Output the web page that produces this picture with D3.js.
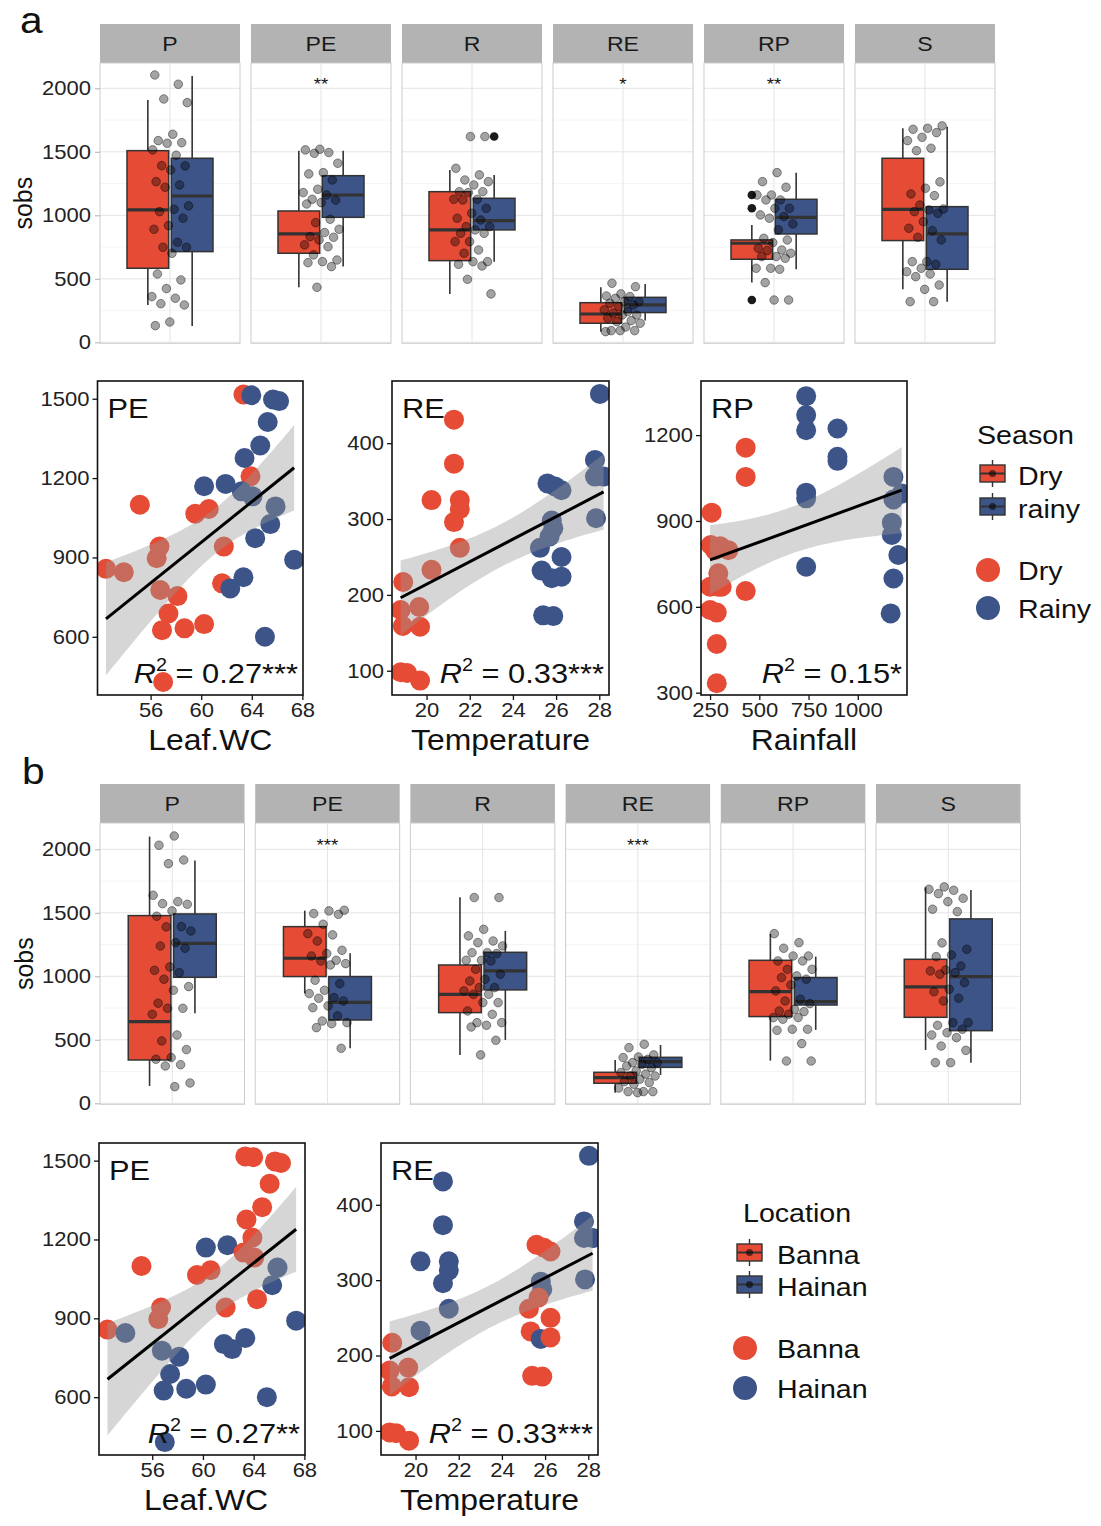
<!DOCTYPE html>
<html>
<head>
<meta charset="utf-8">
<script src="https://cdn.jsdelivr.net/npm/d3@7"></script>
<style>
  body { margin: 0; background: #fff; }
  text { font-family: "Liberation Sans", Arial, Helvetica, sans-serif; }
</style>
</head>
<body>
<svg id="fig" width="1101" height="1526"></svg>
<script>
// ---------- box plots: sobs per compartment ----------
const compartments = ["P", "PE", "R", "RE", "RP", "S"];
const boxTicks = [0, 500, 1000, 1500, 2000];
const boxMinor = [250, 750, 1250, 1750];
// [lower whisker, Q1, median, Q3, upper whisker]
const boxDry    = [[294, 583, 1042, 1509, 1908], [433, 701, 853, 1034, 1509], [381, 643, 885, 1186, 1357], [84, 150, 223, 312, 433], [470, 654, 780, 806, 924], [417, 801, 1047, 1449, 1685]];
const boxRainy  = [[129, 714, 1152, 1449, 2097], [596, 984, 1160, 1312, 1509], [635, 885, 958, 1134, 1318], [171, 234, 294, 354, 459], [575, 853, 984, 1126, 1336], [320, 575, 853, 1068, 1698]];
const boxBanna  = [[137, 341, 643, 1478, 2100], [866, 998, 1142, 1391, 1517], [381, 714, 858, 1089, 1622], [84, 158, 202, 244, 341], [336, 683, 879, 1126, 1333], [420, 677, 916, 1134, 1701]];
const boxHainan = [[709, 992, 1260, 1491, 1911], [433, 656, 795, 998, 1181], [499, 893, 1042, 1189, 1357], [223, 283, 328, 362, 459], [578, 774, 801, 990, 1155], [320, 572, 998, 1452, 1680]];
const outDry    = [[], [], [], [], [1160, 1055, 333], []];
const outRainy  = [[], [], [1620], [], [], []];
const noOut     = [[], [], [], [], [], []];
const sigSeason   = ["", "**", "", "*", "**", ""];
const sigLocation = ["", "***", "", "***", "", ""];

// samples drawn as grey jittered points
const sobsP  = [2105, 2032, 1916, 1887, 1638, 1588, 1572, 1567, 1515, 1473, 1391, 1389, 1357, 1265, 1239, 1221, 1074, 1047, 1029, 977, 919, 890, 788, 748, 748, 701, 538, 491, 423, 360, 347, 304, 294, 160, 131];
const sobsPE = [1520, 1515, 1494, 1488, 1410, 1336, 1326, 1278, 1205, 1179, 1160, 1126, 1120, 1100, 1089, 969, 942, 890, 864, 832, 827, 806, 767, 753, 688, 648, 635, 627, 596, 433];
const sobsR  = [1620, 1620, 1370, 1318, 1278, 1265, 1239, 1186, 1186, 1179, 1126, 1126, 1121, 1055, 1016, 977, 963, 911, 911, 885, 858, 858, 793, 793, 727, 701, 635, 635, 614, 601, 496, 381];
const sobsRE = [465, 438, 381, 365, 360, 346, 320, 320, 307, 294, 281, 255, 242, 230, 215, 215, 190, 171, 163, 150, 120, 92, 92, 92, 84];
const sobsRP = [1336, 1265, 1221, 1160, 1160, 1121, 1121, 1055, 1055, 1003, 990, 977, 932, 885, 819, 806, 785, 740, 727, 722, 701, 675, 675, 662, 583, 583, 575, 470, 333, 333];
const sobsS  = [1704, 1685, 1677, 1651, 1614, 1588, 1528, 1509, 1263, 1213, 1168, 1155, 1081, 1050, 1042, 1029, 1016, 950, 898, 879, 827, 806, 635, 635, 614, 583, 556, 538, 517, 451, 417, 320, 320];
const sobsAll = [sobsP, sobsPE, sobsR, sobsRE, sobsRP, sobsS];

// ---------- scatter: PE sobs vs leaf water content ----------
const peLeafWC = [63.34, 55.15, 59.53, 60.6, 63.9, 61.79, 52.47, 53.88, 56.7, 56.48, 61.65, 56.76, 58.12, 57.41, 56.9, 58.68, 60.23, 56.99,
                  63.96, 65.68, 66.16, 65.26, 64.67, 63.43, 60.23, 61.93, 63.2, 64.05, 65.88, 65.46, 64.27, 67.35, 63.34, 62.3, 65.04];
const peSobs = [1516, 1099, 1065, 1083, 1207, 941, 857, 844, 941, 897, 802, 777, 754, 688, 625, 632, 648, 429,
                1513, 1497, 1491, 1412, 1323, 1276, 1169, 1178, 1150, 1131, 1093, 1026, 973, 891, 825, 783, 600];
const peSeason = ["Dry", "Dry", "Dry", "Dry", "Dry", "Dry", "Dry", "Dry", "Dry", "Dry", "Dry", "Dry", "Dry", "Dry", "Dry", "Dry", "Dry", "Dry",
                  "Rainy", "Rainy", "Rainy", "Rainy", "Rainy", "Rainy", "Rainy", "Rainy", "Rainy", "Rainy", "Rainy", "Rainy", "Rainy", "Rainy", "Rainy", "Rainy", "Rainy"];
const peLocation = ["Banna", "Banna", "Banna", "Banna", "Banna", "Banna", "Banna", "Hainan", "Banna", "Banna", "Hainan", "Hainan", "Hainan", "Hainan", "Hainan", "Hainan", "Hainan", "Hainan",
                    "Banna", "Banna", "Banna", "Banna", "Banna", "Banna", "Hainan", "Hainan", "Banna", "Banna", "Hainan", "Hainan", "Banna", "Hainan", "Hainan", "Hainan", "Hainan"];

// ---------- scatter: RE sobs vs temperature ----------
const reTemp = [21.27, 21.27, 20.23, 21.54, 21.54, 21.27, 21.54, 20.23, 18.92, 18.8, 19.66, 18.9, 19.7, 18.8, 19.1, 19.7,
                28.03, 27.8, 27.8, 28.2, 27.85, 25.6, 25.95, 26.25, 25.8, 25.87, 25.7, 25.25, 26.25, 25.33, 25.8, 26.25, 25.4, 25.87];
const reSobs = [431, 373, 325, 325, 313, 296, 262, 233, 217, 180, 184, 159, 158, 98, 97, 87,
                465, 378, 356, 356, 301, 347, 343, 338, 298, 288, 277, 262, 250, 232, 222, 224, 173, 172];
const reSeason = ["Dry", "Dry", "Dry", "Dry", "Dry", "Dry", "Dry", "Dry", "Dry", "Dry", "Dry", "Dry", "Dry", "Dry", "Dry", "Dry",
                  "Rainy", "Rainy", "Rainy", "Rainy", "Rainy", "Rainy", "Rainy", "Rainy", "Rainy", "Rainy", "Rainy", "Rainy", "Rainy", "Rainy", "Rainy", "Rainy", "Rainy", "Rainy"];
const reLocation = ["Hainan", "Hainan", "Hainan", "Hainan", "Hainan", "Hainan", "Hainan", "Hainan", "Banna", "Banna", "Banna", "Banna", "Banna", "Banna", "Banna", "Banna",
                    "Hainan", "Hainan", "Hainan", "Hainan", "Hainan", "Banna", "Banna", "Banna", "Hainan", "Hainan", "Banna", "Banna", "Banna", "Banna", "Hainan", "Banna", "Banna", "Banna"];

// ---------- scatter: RP sobs vs rainfall ----------
const rpRain = [258, 431, 431, 431, 254, 301, 343, 275, 292, 292, 250, 309, 250, 284, 284, 284,
                738, 738, 738, 897, 897, 897, 738, 738, 738, 1181, 1223, 1181, 1173, 1173, 1206, 1181, 1167];
const rpSobs = [929, 1156, 1054, 655, 816, 812, 798, 798, 717, 670, 670, 670, 589, 580, 470, 333,
                1336, 1270, 1217, 1223, 1124, 1110, 999, 979, 740, 1054, 996, 975, 894, 851, 781, 699, 577];
const rpSeason = ["Dry", "Dry", "Dry", "Dry", "Dry", "Dry", "Dry", "Dry", "Dry", "Dry", "Dry", "Dry", "Dry", "Dry", "Dry", "Dry",
                  "Rainy", "Rainy", "Rainy", "Rainy", "Rainy", "Rainy", "Rainy", "Rainy", "Rainy", "Rainy", "Rainy", "Rainy", "Rainy", "Rainy", "Rainy", "Rainy", "Rainy"];

const r2Season   = ["0.27***", "0.33***", "0.15*"];
const r2Location = ["0.27**", "0.33***"];

const RED = "#E64B35", BLUE = "#3C5488";
const seasonColor = { Dry: RED, Rainy: BLUE };
const locationColor = { Banna: RED, Hainan: BLUE };
const SX = 1.1; // the figure text is slightly wide

const svg = d3.select("#fig");
svg.append("rect").attr("width", 1101).attr("height", 1526).attr("fill", "#fff");

function stretch(sel) {
  sel.each(function () {
    const t = d3.select(this);
    const x = +t.attr("x") || 0;
    t.attr("x", x / SX).attr("transform", `scale(${SX},1)`);
  });
}

function label(p, x, y, str, size, anchor) {
  return p.append("text")
    .attr("x", x / SX).attr("y", y)
    .attr("transform", `scale(${SX},1)`)
    .attr("font-size", size)
    .attr("text-anchor", anchor || "start")
    .attr("fill", "#111")
    .text(str);
}

function frac(v) { return v - Math.floor(v); }

// ---------- box plot row ----------
function boxRow(o) {
  const px = d3.scaleBand().domain(compartments).range(o.xRange).paddingInner(o.pad);
  const y = d3.scaleLinear().domain([0, 2000]).range([o.zero, o.zero - 254]);
  const top = o.stripTop + 39, bottom = o.zero + 1;
  const w = px.bandwidth();

  compartments.forEach((c, k) => {
    const x0 = px(c), cx = x0 + w / 2;
    const g = svg.append("g");

    g.append("rect").attr("x", x0).attr("y", o.stripTop).attr("width", w).attr("height", 39).attr("fill", "#B3B3B3");
    label(g, cx, o.stripTop + 27.5, c, 21, "middle").attr("fill", "#1a1a1a");

    g.selectAll(".minor").data(boxMinor).join("line").attr("class", "minor")
      .attr("x1", x0).attr("x2", x0 + w).attr("y1", d => y(d)).attr("y2", d => y(d))
      .attr("stroke", "#F2F2F2").attr("stroke-width", 0.8);
    g.selectAll(".major").data(boxTicks).join("line").attr("class", "major")
      .attr("x1", x0).attr("x2", x0 + w).attr("y1", d => y(d)).attr("y2", d => y(d))
      .attr("stroke", "#E4E4E4").attr("stroke-width", 1);
    g.append("line").attr("x1", cx).attr("x2", cx).attr("y1", top).attr("y2", bottom)
      .attr("stroke", "#E4E4E4").attr("stroke-width", 1);

    const sub = d3.scaleBand().domain([0, 1]).range([cx - o.dodge, cx + o.dodge]).paddingInner(0.06);
    [[o.first[k], RED, o.outFirst[k]], [o.second[k], BLUE, o.outSecond[k]]].forEach(([s, col, outs], j) => {
      const bx = sub(j), bw = sub.bandwidth(), mx = bx + bw / 2;
      g.append("line").attr("x1", mx).attr("x2", mx).attr("y1", y(s[0])).attr("y2", y(s[4]))
        .attr("stroke", "#333").attr("stroke-width", 1.6);
      g.append("rect").attr("x", bx).attr("y", y(s[3])).attr("width", bw).attr("height", y(s[1]) - y(s[3]))
        .attr("fill", col).attr("stroke", "#333").attr("stroke-width", 1.5);
      g.append("line").attr("x1", bx).attr("x2", bx + bw).attr("y1", y(s[2])).attr("y2", y(s[2]))
        .attr("stroke", "#333").attr("stroke-width", 3.2);
      g.selectAll(".out" + j).data(outs).join("circle").attr("class", "out" + j)
        .attr("cx", mx).attr("cy", d => y(d)).attr("r", 4.3).attr("fill", "#1a1a1a");
    });

    g.selectAll(".jit").data(sobsAll[k]).join("circle").attr("class", "jit")
      .attr("cx", (d, i) => cx + (frac(i * 0.6180339887 + o.seed + k * 0.37) - 0.5) * 2 * o.jw)
      .attr("cy", d => y(d)).attr("r", 4.3)
      .attr("fill", "#000").attr("fill-opacity", 0.36)
      .attr("stroke", "#000").attr("stroke-opacity", 0.4).attr("stroke-width", 1);

    if (o.sig[k]) label(g, cx, y(2000) + 2, o.sig[k], 17, "middle");

    g.append("rect").attr("x", x0).attr("y", top).attr("width", w).attr("height", bottom - top)
      .attr("fill", "none").attr("stroke", "#CCCCCC").attr("stroke-width", 1);
  });

  const ax = svg.append("g").attr("transform", `translate(${o.xRange[0]},0)`)
    .call(d3.axisLeft(y).tickValues(boxTicks).tickSize(5).tickPadding(4).tickFormat(d3.format("d")))
    .attr("font-size", 20).attr("font-family", null);
  ax.select(".domain").remove();
  ax.selectAll("line").attr("stroke", "#B3B3B3");
  ax.selectAll("text").attr("fill", "#222").call(stretch);

  svg.append("text").attr("transform", `translate(${o.ylabX},${(top + bottom) / 2}) rotate(-90)`)
    .attr("text-anchor", "middle").attr("font-size", 25).attr("fill", "#111").text("sobs");
}

// ---------- scatter panel ----------
function linFit(xs, ys) {
  const n = xs.length, mx = d3.mean(xs), my = d3.mean(ys);
  let sxx = 0, sxy = 0;
  xs.forEach((x, i) => { sxx += (x - mx) ** 2; sxy += (x - mx) * (ys[i] - my); });
  const b = sxy / sxx, a = my - b * mx;
  const sse = d3.sum(xs, (x, i) => (ys[i] - a - b * x) ** 2);
  const s = Math.sqrt(sse / (n - 2));
  const df = n - 2, t = 1.96 + 2.37 / df + 2.8 / (df * df);
  return { a, b, half: x => t * s * Math.sqrt(1 / n + (x - mx) ** 2 / sxx) };
}

let clipN = 0;
function scatter(o) {
  const x = d3.scaleLinear().domain(o.xDomain).range([o.left, o.left + o.w]);
  const y = d3.scaleLinear().domain(o.yDomain).range([o.top + o.h, o.top]);
  const g = svg.append("g");
  const id = "clip" + (clipN++);
  svg.append("clipPath").attr("id", id).append("rect")
    .attr("x", o.left).attr("y", o.top).attr("width", o.w).attr("height", o.h);
  const inner = g.append("g").attr("clip-path", `url(#${id})`);

  inner.selectAll("circle").data(o.xs).join("circle")
    .attr("cx", d => x(d)).attr("cy", (d, i) => y(o.ys[i])).attr("r", 10)
    .attr("fill", (d, i) => o.colors[o.groups[i]]);

  const fit = linFit(o.xs, o.ys);
  const [xa, xb] = d3.extent(o.xs);
  const grid = d3.range(0, 61).map(k => xa + (xb - xa) * k / 60);
  inner.append("path").datum(grid)
    .attr("d", d3.area().x(d => x(d))
      .y0(d => y(fit.a + fit.b * d - fit.half(d)))
      .y1(d => y(fit.a + fit.b * d + fit.half(d))))
    .attr("fill", "#999").attr("fill-opacity", 0.4);
  inner.append("path").datum([xa, xb])
    .attr("d", d3.line().x(d => x(d)).y(d => y(fit.a + fit.b * d)))
    .attr("fill", "none").attr("stroke", "#000").attr("stroke-width", 3);

  g.append("rect").attr("x", o.left).attr("y", o.top).attr("width", o.w).attr("height", o.h)
    .attr("fill", "none").attr("stroke", "#111").attr("stroke-width", 1.6);

  const axB = g.append("g").attr("transform", `translate(0,${o.top + o.h})`)
    .call(d3.axisBottom(x).tickValues(o.xTicks).tickSize(5).tickPadding(3).tickFormat(d3.format("d")))
    .attr("font-size", 20).attr("font-family", null);
  const axL = g.append("g").attr("transform", `translate(${o.left},0)`)
    .call(d3.axisLeft(y).tickValues(o.yTicks).tickSize(5).tickPadding(3).tickFormat(d3.format("d")))
    .attr("font-size", 20).attr("font-family", null);
  [axB, axL].forEach(ax => {
    ax.select(".domain").remove();
    ax.selectAll("line").attr("stroke", "#111").attr("stroke-width", 1.3);
    ax.selectAll("text").attr("fill", "#222").call(stretch);
  });

  label(g, o.left + 10, o.top + 37, o.title, 28);
  const r = label(g, o.left + o.w - 5, o.top + o.h - 12, "", 28, "end");
  r.append("tspan").attr("font-style", "italic").text("R");
  r.append("tspan").attr("font-size", 18).attr("dy", -12).text("2");
  r.append("tspan").attr("dy", 12).text(" = " + o.r2);
  label(g, o.left + o.w / 2 + (o.xlabDx || 0), o.top + o.h + 55, o.xlab, 29, "middle");
}

// ---------- legends ----------
function boxKey(x, y, col) {
  svg.append("line").attr("x1", x + 12.5).attr("x2", x + 12.5).attr("y1", y - 5).attr("y2", y + 22)
    .attr("stroke", "#333").attr("stroke-width", 1.4);
  svg.append("rect").attr("x", x).attr("y", y).attr("width", 25).attr("height", 17)
    .attr("fill", col).attr("stroke", "#333").attr("stroke-width", 1.4);
  svg.append("line").attr("x1", x).attr("x2", x + 25).attr("y1", y + 8.5).attr("y2", y + 8.5)
    .attr("stroke", "#333").attr("stroke-width", 2);
  svg.append("circle").attr("cx", x + 12.5).attr("cy", y + 8.5).attr("r", 3.5).attr("fill", "#000").attr("fill-opacity", 0.55);
}

function legend(o) {
  label(svg, o.x, o.titleY, o.title, 26);
  o.keys.forEach((k, i) => {
    boxKey(o.x + o.boxDx, o.boxY[i], o.colors[k]);
    label(svg, o.x + o.textDx, o.boxY[i] + 20, o.boxLabels[i], 26);
    svg.append("circle").attr("cx", o.x + o.dotDx).attr("cy", o.dotY[i]).attr("r", 12).attr("fill", o.colors[k]);
    label(svg, o.x + o.textDx, o.dotY[i] + 10, k, 26);
  });
}

// ---------- panel a ----------
label(svg, 20, 33, "a", 37);
boxRow({ xRange: [100, 995], pad: 0.0728, stripTop: 24, zero: 342.3, dodge: 43, jw: 19, seed: 0.1,
  first: boxDry, second: boxRainy, outFirst: outDry, outSecond: outRainy, sig: sigSeason, ylabX: 32 });

scatter({ left: 97.5, top: 381, w: 205.5, h: 314, xDomain: [51.8, 68.05], yDomain: [380, 1567],
  xTicks: [56, 60, 64, 68], yTicks: [600, 900, 1200, 1500], xs: peLeafWC, ys: peSobs,
  groups: peSeason, colors: seasonColor, title: "PE", r2: r2Season[0], xlab: "Leaf.WC", xlabDx: 10 });
scatter({ left: 392, top: 381, w: 217, h: 314, xDomain: [18.4, 28.45], yDomain: [68, 482],
  xTicks: [20, 22, 24, 26, 28], yTicks: [100, 200, 300, 400], xs: reTemp, ys: reSobs,
  groups: reSeason, colors: seasonColor, title: "RE", r2: r2Season[1], xlab: "Temperature" });
scatter({ left: 701, top: 381, w: 206, h: 314, xDomain: [204, 1250], yDomain: [292, 1389],
  xTicks: [250, 500, 750, 1000], yTicks: [300, 600, 900, 1200], xs: rpRain, ys: rpSobs,
  groups: rpSeason, colors: seasonColor, title: "RP", r2: r2Season[2], xlab: "Rainfall" });

legend({ x: 977, titleY: 444, title: "Season", keys: ["Dry", "Rainy"], boxLabels: ["Dry", "rainy"],
  colors: seasonColor, boxDx: 3, textDx: 41, dotDx: 11, boxY: [465, 498], dotY: [570, 608] });

// ---------- panel b ----------
label(svg, 22, 784, "b", 37);
boxRow({ xRange: [100, 1020.5], pad: 0.069, stripTop: 784, zero: 1103.3, dodge: 44, jw: 20, seed: 0.55,
  first: boxBanna, second: boxHainan, outFirst: noOut, outSecond: noOut, sig: sigLocation, ylabX: 33 });

scatter({ left: 99, top: 1143, w: 206, h: 312, xDomain: [51.8, 68.05], yDomain: [380, 1567],
  xTicks: [56, 60, 64, 68], yTicks: [600, 900, 1200, 1500], xs: peLeafWC, ys: peSobs,
  groups: peLocation, colors: locationColor, title: "PE", r2: r2Location[0], xlab: "Leaf.WC", xlabDx: 4 });
scatter({ left: 381, top: 1143, w: 217, h: 312, xDomain: [18.4, 28.45], yDomain: [68, 482],
  xTicks: [20, 22, 24, 26, 28], yTicks: [100, 200, 300, 400], xs: reTemp, ys: reSobs,
  groups: reLocation, colors: locationColor, title: "RE", r2: r2Location[1], xlab: "Temperature" });

legend({ x: 743, titleY: 1222, title: "Location", keys: ["Banna", "Hainan"], boxLabels: ["Banna", "Hainan"],
  colors: locationColor, boxDx: -6, textDx: 34, dotDx: 2, boxY: [1244, 1276], dotY: [1348, 1388] });
</script>
</body>
</html>
